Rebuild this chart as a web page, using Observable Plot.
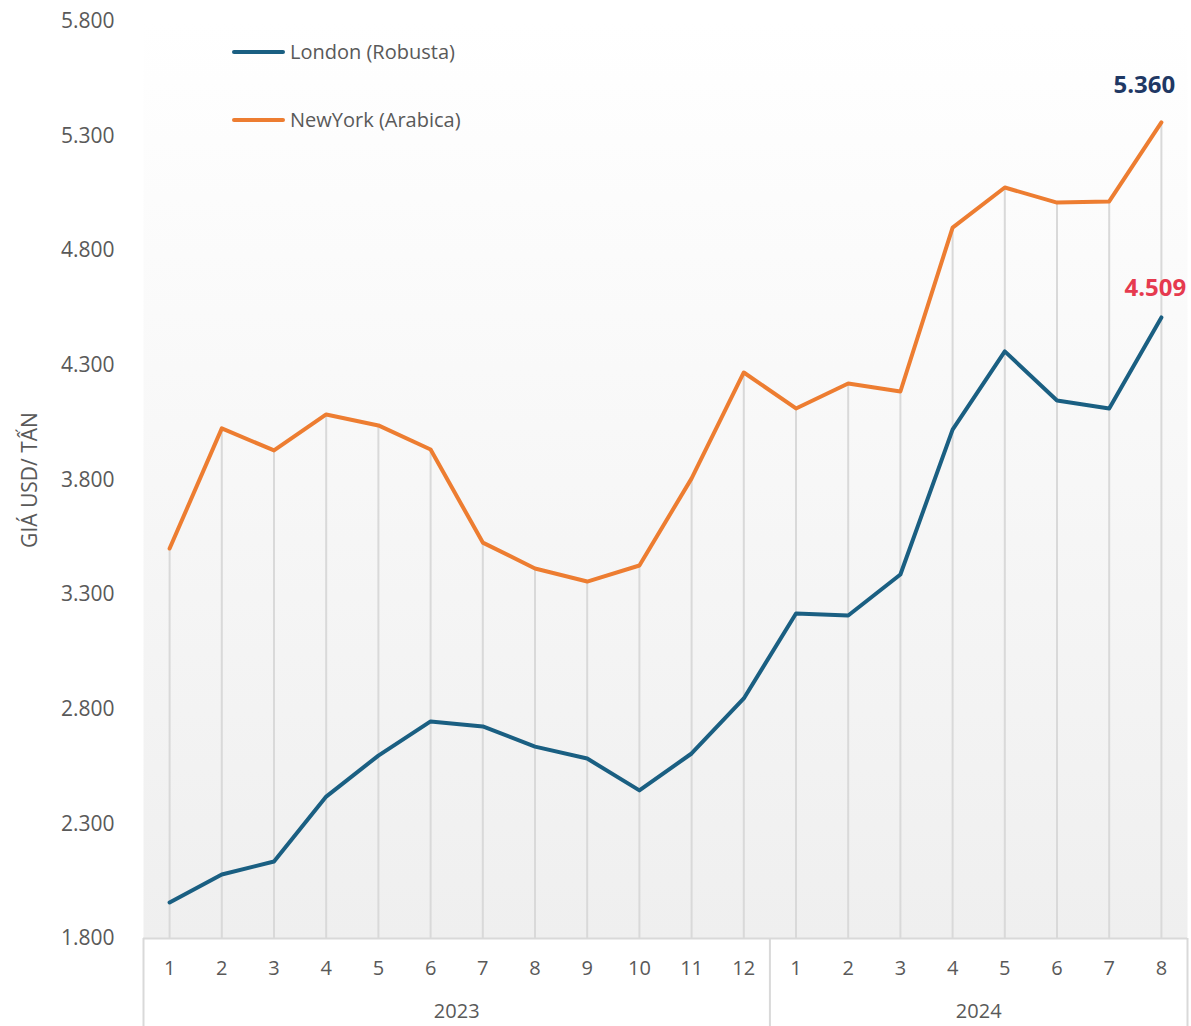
<!DOCTYPE html>
<html>
<head>
<meta charset="utf-8">
<script src="https://cdn.jsdelivr.net/npm/d3@7"></script>
<script src="https://cdn.jsdelivr.net/npm/@observablehq/plot@0.6"></script>
<style>
  html, body { margin: 0; padding: 0; background: #fff; }
  #wrap { position: relative; width: 1191px; height: 1026px; font-family: "Open Sans", sans-serif; }
  .legend { position: absolute; left: 232px; display: flex; align-items: center; font-size: 20px; color: #595959; }
  .legend .sw { width: 53px; height: 4px; border-radius: 2px; margin-right: 5px; }
</style>
</head>
<body>
<div id="wrap"></div>
<script>
const months = ["1","2","3","4","5","6","7","8","9","10","11","12","1","2","3","4","5","6","7","8"];
const london = [1957, 2079, 2136, 2419, 2598, 2747, 2725, 2637, 2585, 2446, 2607, 2847, 3218, 3209, 3388, 4020, 4361, 4147, 4112, 4509];
const newyork = [3501, 4025, 3929, 4086, 4038, 3933, 3527, 3414, 3357, 3427, 3807, 4269, 4112, 4221, 4186, 4901, 5076, 5010, 5015, 5360];
const yearLabels = ["2023", "2024"];
const yearStart = [0, 12];
const yearEnd = [11, 19];
const yTicks = [1800, 2300, 2800, 3300, 3800, 4300, 4800, 5300, 5800];
const seriesNames = ["London (Robusta)", "NewYork (Arabica)"];
const colors = ["#1a5f82", "#ed7d31"];

const idx = d3.range(months.length);
const rows = idx.map(i => ({i, month: months[i], london: london[i], newyork: newyork[i], top: Math.max(london[i], newyork[i])}));
const last = idx.length - 1;
const fmt = d => d3.format(",")(d).replace(/,/g, ".");
const font = "Open Sans, sans-serif";
const grey = "#595959";
const yearMid = yearStart.map((s, k) => (s + yearEnd[k]) / 2);

const chart = Plot.plot({
  width: 1191,
  height: 1026,
  marginLeft: 143,
  marginRight: 4,
  marginTop: 21,
  marginBottom: 88,
  style: {fontFamily: font, background: "transparent"},
  x: {type: "linear", domain: [-0.5, idx.length - 0.5]},
  y: {domain: [yTicks[0], yTicks[yTicks.length - 1]]},
  marks: [
    Plot.frame({fill: "url(#bgGrad)", stroke: "none"}),
    Plot.ruleX(rows, {x: "i", y1: yTicks[0], y2: "top", stroke: "#d9d9d9", strokeWidth: 2}),
    Plot.ruleY([yTicks[0]], {stroke: "#d9d9d9", strokeWidth: 2}),
    Plot.axisX({ticks: [...yearStart.map(s => s - 0.5), yearEnd[yearEnd.length - 1] + 0.5], tickSize: 88, tickFormat: () => "", stroke: "#d9d9d9", strokeWidth: 2, label: null}),
    Plot.axisX({ticks: idx, tickSize: 0, tickPadding: 22, tickFormat: i => months[i], fontSize: 20, fill: grey, label: null}),
    Plot.axisX({ticks: yearMid, tickSize: 0, tickPadding: 65, tickFormat: t => yearLabels[yearMid.indexOf(t)], fontSize: 20, fill: grey, label: null}),
    Plot.axisY({ticks: yTicks, tickSize: 0, tickPadding: 29, tickFormat: fmt, fontSize: 21, fill: grey, label: null}),
    Plot.text(["GIÁ USD/ TẤN"], {frameAnchor: "left", textAnchor: "middle", rotate: -90, dx: -113, fontSize: 21, fill: grey}),
    Plot.line(rows, {x: "i", y: "newyork", stroke: colors[1], strokeWidth: 4, strokeLinejoin: "round", strokeLinecap: "round"}),
    Plot.line(rows, {x: "i", y: "london", stroke: colors[0], strokeWidth: 4, strokeLinejoin: "round", strokeLinecap: "round"}),
    Plot.text([rows[last]], {x: "i", y: "newyork", text: d => fmt(d.newyork), dx: -17, dy: -37, fontSize: 24, fontWeight: "bold", fill: "#1f3864"}),
    Plot.text([rows[last]], {x: "i", y: "london", text: d => fmt(d.london), dx: -6, dy: -29, fontSize: 24, fontWeight: "bold", fill: "#e63a4f"})
  ]
});

const svg = d3.select(chart);
const grad = svg.insert("defs", ":first-child").append("linearGradient")
  .attr("id", "bgGrad").attr("x1", 0).attr("y1", 0).attr("x2", 0).attr("y2", 1);
grad.append("stop").attr("offset", "0%").attr("stop-color", "#ffffff");
grad.append("stop").attr("offset", "13%").attr("stop-color", "#fdfdfd");
grad.append("stop").attr("offset", "100%").attr("stop-color", "#efefef");

const wrap = document.getElementById("wrap");
wrap.appendChild(chart);
seriesNames.forEach((name, k) => {
  const item = document.createElement("div");
  item.className = "legend";
  item.style.top = (k === 0 ? 38 : 106) + "px";
  item.innerHTML = `<div class="sw" style="background:${colors[k]}"></div><span>${name}</span>`;
  wrap.appendChild(item);
});
</script>
</body>
</html>
